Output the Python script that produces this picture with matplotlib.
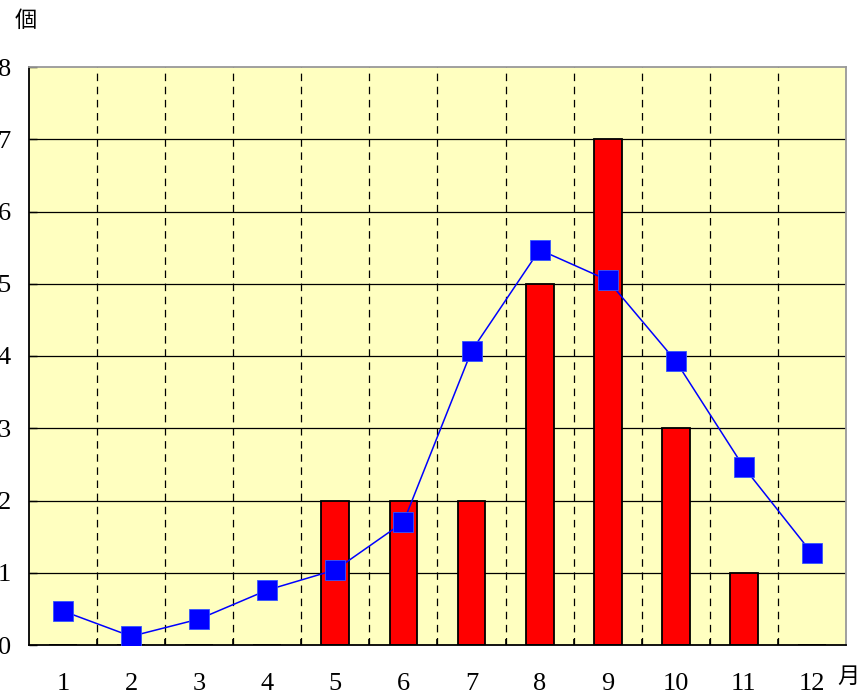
import matplotlib
matplotlib.use("Agg")
import matplotlib.pyplot as plt
import numpy as np

months = [1, 2, 3, 4, 5, 6, 7, 8, 9, 10, 11, 12]
month_labels = ["1", "2", "3", "4", "5", "6", "7", "8", "9", "10", "11", "12"]
counts = [0, 0, 0, 0, 2, 2, 2, 5, 7, 3, 1, 0]
average = [0.47, 0.12, 0.36, 0.76, 1.04, 1.70, 4.07, 5.47, 5.05, 3.93, 2.46, 1.27]
yticks = [0, 1, 2, 3, 4, 5, 6, 7, 8]

fig = plt.figure(figsize=(8.59, 6.93), dpi=100)
ax = fig.add_axes([29/859, 1 - 645/693, (846-29)/859, (645-67)/693])
ax.set_facecolor("#FFFFC0")

ax.set_xlim(0.5, 12.5)
ax.set_ylim(0, 8)

for y in yticks[1:-1]:
    ax.axhline(y, color="black", lw=0.9, zorder=1)
boundaries = np.arange(1.5, 12.5, 1.0)
for b in boundaries:
    ax.axvline(b, color="black", lw=0.9, ls=(0, (6, 4.5)), zorder=1)

ax.bar(months, counts, width=0.41, color="#FF0000", edgecolor="black", lw=1.3, zorder=2)
ax.plot(months, average, color="#0000FF", lw=1.1, marker="s", markersize=14.5,
        markerfacecolor="#0000FF", markeredgecolor="#3355FF", markeredgewidth=0.6, zorder=3)

ax.set_xticks(months)
ax.set_xticklabels(month_labels, fontsize=19, family="Liberation Serif")
ax.set_xticks(boundaries, minor=True)
ax.set_yticks(yticks)
ax.set_yticklabels([str(v) for v in yticks], fontsize=19, family="Liberation Serif")
ax.tick_params(axis="x", which="major", length=0, pad=20)
ax.tick_params(axis="x", which="minor", direction="in", length=4, width=1.2, color="black")
ax.tick_params(axis="y", direction="in", length=6, width=1.0, pad=13)

for s in ["left", "bottom"]:
    ax.spines[s].set_color("black")
    ax.spines[s].set_linewidth(1.3)
for s in ["top", "right"]:
    ax.spines[s].set_color("#999999")
    ax.spines[s].set_linewidth(1.3)

fig.text(15/859, 1 - 20/693, "個", fontsize=16, family="Noto Sans CJK JP", va="center", ha="left")
fig.text(837/859, 1 - 676/693, "月", fontsize=16, family="Noto Sans CJK JP", va="center", ha="left")

fig.savefig("out.png", dpi=100)
